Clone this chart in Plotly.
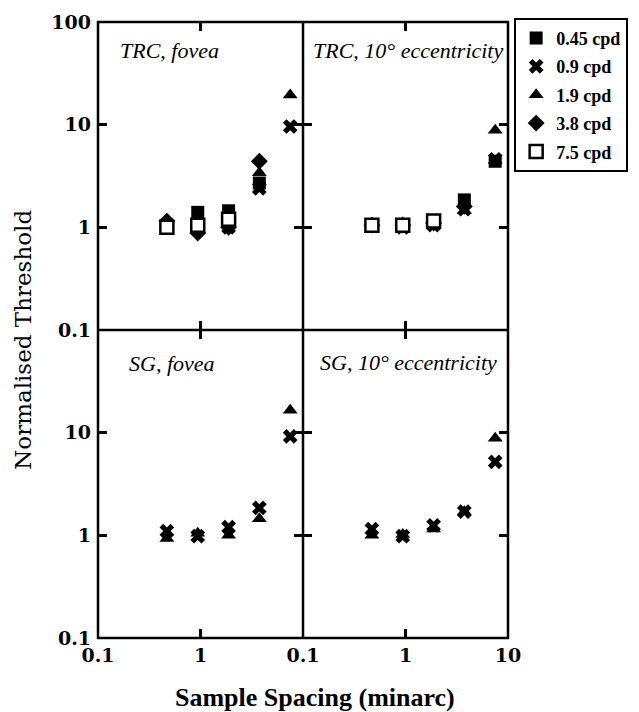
import plotly.graph_objects as go
from plotly.subplots import make_subplots

spacing = [0.47, 0.94, 1.88, 3.75, 7.5]
freqs = ["0.45 cpd", "0.9 cpd", "1.9 cpd", "3.8 cpd", "7.5 cpd"]

trc_fovea = {
    "0.45 cpd": [1.0, 1.4, 1.45, 2.7, None],
    "0.9 cpd": [1.0, 1.0, 1.0, 2.4, 9.6],
    "1.9 cpd": [1.05, 1.05, 1.1, 3.4, 19.5],
    "3.8 cpd": [1.15, 0.88, 1.0, 4.4, None],
    "7.5 cpd": [1.0, 1.05, 1.2, None, None],
}
trc_ecc = {
    "0.45 cpd": [1.05, 1.05, 1.1, 1.85, 4.4],
    "0.9 cpd": [1.05, 1.0, 1.05, 1.5, 4.6],
    "1.9 cpd": [1.05, 1.1, 1.05, 1.45, 8.8],
    "3.8 cpd": [1.05, 1.05, 1.1, 1.6, None],
    "7.5 cpd": [1.05, 1.05, 1.15, None, None],
}
sg_fovea = {
    "0.9 cpd": [1.1, 0.98, 1.2, 1.85, 9.2],
    "1.9 cpd": [0.93, 1.05, 1.0, 1.45, 16.5],
}
sg_ecc = {
    "0.9 cpd": [1.15, 0.98, 1.25, 1.7, 5.2],
    "1.9 cpd": [1.0, 1.02, 1.15, 1.7, 8.8],
}
panel_titles = ["TRC, fovea", "TRC, 10° eccentricity", "SG, fovea", "SG, 10° eccentricity"]

styles = {
    "0.45 cpd": dict(symbol="square", color="black", line=dict(color="black", width=0)),
    "0.9 cpd": dict(symbol="x", color="black", line=dict(color="black", width=0)),
    "1.9 cpd": dict(symbol="triangle-up", color="black", line=dict(color="black", width=0)),
    "3.8 cpd": dict(symbol="diamond", color="black", line=dict(color="black", width=0)),
    "7.5 cpd": dict(symbol="square", color="white", line=dict(color="black", width=2.5)),
}

SERIF = "Liberation Serif"
TICKFONT = "DejaVu Serif"

fig = make_subplots(rows=2, cols=2, horizontal_spacing=0, vertical_spacing=0)

panels = [(trc_fovea, 1, 1), (trc_ecc, 1, 2), (sg_fovea, 2, 1), (sg_ecc, 2, 2)]
for i, (data, r, c) in enumerate(panels):
    for f in freqs:
        if f not in data:
            continue
        st = styles[f]
        fig.add_trace(go.Scatter(
            x=spacing, y=data[f], mode="markers", name=f,
            legendgroup=f, showlegend=(i == 0),
            marker=dict(symbol=st["symbol"], color=st["color"], size=13, line=st["line"]),
        ), row=r, col=c)

axis_common = dict(
    type="log", showline=False, mirror="ticks",
    ticks="inside", ticklen=9, tickwidth=2.5, tickcolor="black", showgrid=False,
    zeroline=False, tickfont=dict(family=TICKFONT, size=19, color="black", weight="bold"),
)

for r in (1, 2):
    for c in (1, 2):
        if r == 2 and c == 1:
            tt = ["0.1", "1", ""]
        elif r == 2 and c == 2:
            tt = ["0.1", "1", "10"]
        else:
            tt = ["", "", ""]
        fig.update_xaxes(range=[-1, 1], tickvals=[0.1, 1, 10], ticktext=tt,
                         ticklabelstandoff=4, **axis_common, row=r, col=c)
        if r == 1 and c == 1:
            ytt = ["0.1", "1", "10", "100"]
        elif r == 2 and c == 1:
            ytt = ["0.1", "1", "10", ""]
        else:
            ytt = ["", "", "", ""]
        fig.update_yaxes(range=[-1, 2], tickvals=[0.1, 1, 10, 100], ticktext=ytt,
                         ticklabelstandoff=6, **axis_common, row=r, col=c)

# frame lines
frame = dict(color="black", width=2.5)
fig.add_shape(type="rect", xref="paper", yref="paper", x0=0, x1=1, y0=0, y1=1, line=frame)
fig.add_shape(type="line", xref="paper", yref="paper", x0=0.5, x1=0.5, y0=0, y1=1, line=frame)
fig.add_shape(type="line", xref="paper", yref="paper", x0=0, x1=1, y0=0.5, y1=0.5, line=frame)

# panel titles
title_pos = [(0.098, 0.909, 1, 1), (0.04, 0.909, 1, 2), (0.14, 0.89, 2, 1), (0.073, 0.895, 2, 2)]
for t, (px, py, r, c) in zip(panel_titles, title_pos):
    fig.add_annotation(text="<i>" + t + "</i>", x=px, y=py, xref="x domain", yref="y domain",
                       xanchor="left", yanchor="middle", showarrow=False,
                       font=dict(family=SERIF, size=22, color="black"), row=r, col=c)

fig.add_annotation(text="Normalised Threshold", x=-0.183, y=0.484, xref="paper", yref="paper",
                   textangle=-90, showarrow=False, xanchor="center", yanchor="middle",
                   font=dict(family="DejaVu Serif", size=23, color="black"))
fig.add_annotation(text="<b>Sample Spacing (minarc)</b>", x=0.529, y=-0.096, xref="paper", yref="paper",
                   showarrow=False, xanchor="center", yanchor="middle",
                   font=dict(family=SERIF, size=26, color="black"))

fig.update_layout(
    width=639, height=712,
    margin=dict(l=98, r=131, t=22, b=74, autoexpand=False),
    paper_bgcolor="white", plot_bgcolor="white",
    showlegend=True,
    legend=dict(x=1.015, y=1.007, xanchor="left", yanchor="top",
                bordercolor="black", borderwidth=2, bgcolor="white",
                font=dict(family=SERIF, size=18, color="black", weight="bold"),
                itemwidth=30, tracegroupgap=2),
)

fig.write_html("out.html")
